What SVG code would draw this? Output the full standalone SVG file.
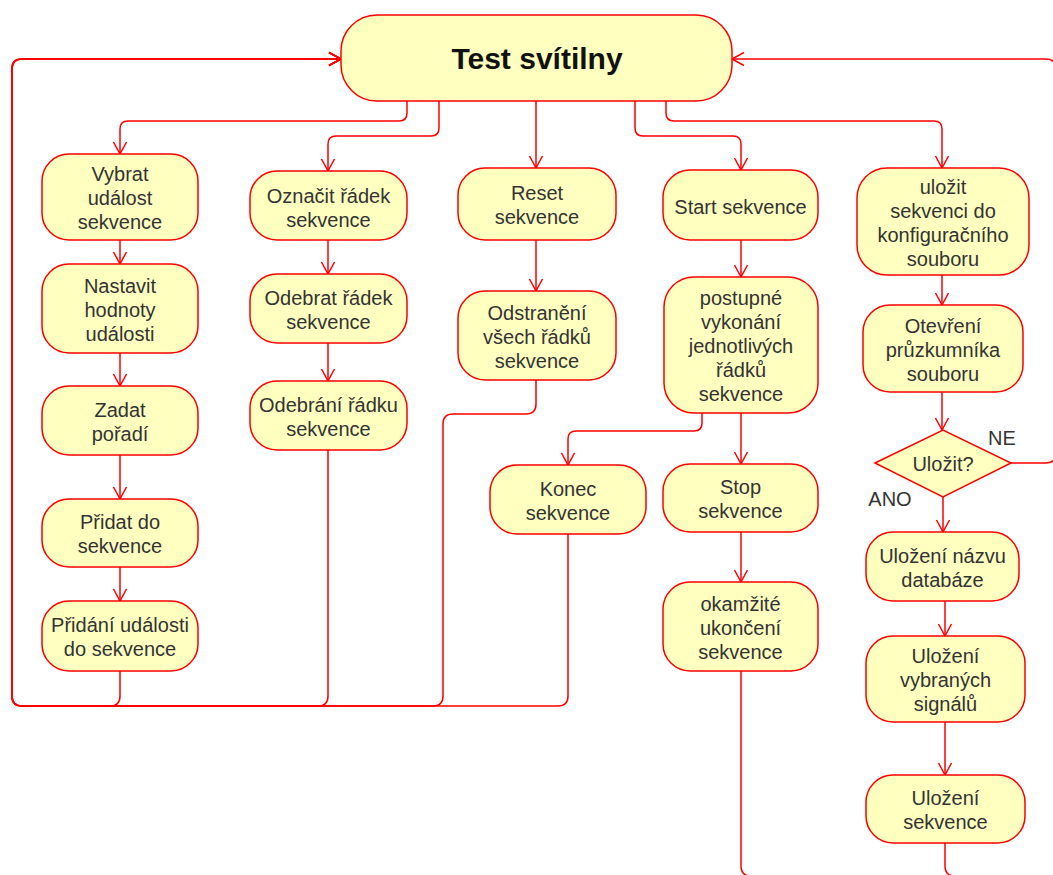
<svg xmlns="http://www.w3.org/2000/svg" width="1053" height="875" viewBox="0 0 1053 875">
  <style>
    .node rect, .node polygon { fill: #FFFFC0; stroke: #FF0000; stroke-width: 1.5; }
    .node text { font-family: "Liberation Sans", Arial, Helvetica, sans-serif; font-size: 20px; fill: #333333; text-anchor: middle; }
    .node text.title { font-size: 30px; font-weight: bold; fill: #111111; }
    .edges path { fill: none; stroke: #FF0000; stroke-width: 1.5; }
    .edges path.arr { marker-end: url(#open); }
    .lbl { font-family: "Liberation Sans", Arial, Helvetica, sans-serif; font-size: 20px; fill: #333333; text-anchor: middle; }
  </style>
  <defs>
    <marker id="open" viewBox="-14 -8 16 16" refX="0" refY="0" markerWidth="16" markerHeight="16" markerUnits="userSpaceOnUse" orient="auto">
      <path d="M-12,-6.5 L0,0 L-12,6.5" fill="none" stroke="#FF0000" stroke-width="1.5"/>
    </marker>
  </defs>
  <rect width="1053" height="875" fill="#FFFFFF"/>

  <!-- connectors -->
  <g class="edges" id="edges">
    <!-- from the start node -->
    <path class="arr" d="M407,101 V113 Q407,121 399,121 H128 Q120,121 120,129 V154"/>
    <path class="arr" d="M439,101 V128 Q439,136 431,136 H336 Q328,136 328,144 V171"/>
    <path class="arr" d="M536,101 V168"/>
    <path class="arr" d="M635,101 V128 Q635,136 643,136 H733 Q741,136 741,144 V170"/>
    <path class="arr" d="M666,101 V113 Q666,121 674,121 H934 Q942,121 942,129 V168"/>

    <!-- column 1 -->
    <path class="arr" d="M120,240 V264"/>
    <path class="arr" d="M120,353 V386"/>
    <path class="arr" d="M120,455 V499"/>
    <path class="arr" d="M120,567 V601"/>
    <path class="arr" d="M120,671 V696 Q120,706 110,706 H22 Q12,706 12,696 V69 Q12,59 22,59 H341"/>

    <!-- column 2 -->
    <path class="arr" d="M328,240 V274"/>
    <path class="arr" d="M328,343 V381"/>
    <path class="arr" d="M328,450 V696 Q328,706 318,706 H22 Q12,706 12,696 V69 Q12,59 22,59 H341"/>

    <!-- column 3 -->
    <path class="arr" d="M536,240 V291"/>
    <path class="arr" d="M536,380 V404 Q536,414 526,414 H453 Q443,414 443,424 V696 Q443,706 433,706 H22 Q12,706 12,696 V69 Q12,59 22,59 H341"/>

    <!-- column 4 -->
    <path class="arr" d="M741,240 V277"/>
    <path class="arr" d="M702,413 V423 Q702,431 694,431 H576 Q568,431 568,439 V465"/>
    <path class="arr" d="M741,413 V464"/>
    <path class="arr" d="M568,534 V696 Q568,706 558,706 H22 Q12,706 12,696 V69 Q12,59 22,59 H341"/>
    <path class="arr" d="M741,532 V582"/>
    <path d="M741,671 V866 Q741,876 751,876 H770"/>

    <!-- column 5 -->
    <path class="arr" d="M942,275 V305"/>
    <path class="arr" d="M942,392 V430"/>
    <path class="arr" d="M1011,463 H1046 Q1056,463 1056,453 V69 Q1056,59 1046,59 H732"/>
    <path class="arr" d="M943,497 V532"/>
    <path class="arr" d="M945,601 V636"/>
    <path class="arr" d="M945,722 V775"/>
    <path d="M945,843 V866 Q945,876 955,876 H980"/>
  </g>

  <!-- branch labels -->
  <text class="lbl" x="1002" y="445">NE</text>
  <text class="lbl" x="890" y="506">ANO</text>

  <!-- nodes -->
  <g class="node" id="test-svitilny">
    <rect x="341" y="15" width="391" height="86" rx="36"/>
    <text class="title" x="537" y="69">Test svítilny</text>
  </g>

  <g class="node" id="vybrat-udalost">
    <rect x="42" y="154" width="156" height="86" rx="27"/>
    <text x="120" y="181">Vybrat</text>
    <text x="120" y="205">událost</text>
    <text x="120" y="229">sekvence</text>
  </g>
  <g class="node" id="nastavit-hodnoty">
    <rect x="42" y="264" width="156" height="89" rx="27"/>
    <text x="120" y="293">Nastavit</text>
    <text x="120" y="317">hodnoty</text>
    <text x="120" y="341">události</text>
  </g>
  <g class="node" id="zadat-poradi">
    <rect x="42" y="386" width="156" height="69" rx="27"/>
    <text x="120" y="417">Zadat</text>
    <text x="120" y="441">pořadí</text>
  </g>
  <g class="node" id="pridat-do-sekvence">
    <rect x="42" y="499" width="156" height="68" rx="27"/>
    <text x="120" y="529">Přidat do</text>
    <text x="120" y="553">sekvence</text>
  </g>
  <g class="node" id="pridani-udalosti">
    <rect x="42" y="601" width="156" height="70" rx="27"/>
    <text x="120" y="632">Přidání události</text>
    <text x="120" y="656">do sekvence</text>
  </g>

  <g class="node" id="oznacit-radek">
    <rect x="250" y="171" width="157" height="69" rx="27"/>
    <text x="328.5" y="203">Označit řádek</text>
    <text x="328.5" y="227">sekvence</text>
  </g>
  <g class="node" id="odebrat-radek">
    <rect x="250" y="274" width="157" height="69" rx="27"/>
    <text x="328.5" y="305">Odebrat řádek</text>
    <text x="328.5" y="329">sekvence</text>
  </g>
  <g class="node" id="odebrani-radku">
    <rect x="250" y="381" width="157" height="69" rx="27"/>
    <text x="328.5" y="412">Odebrání řádku</text>
    <text x="328.5" y="436">sekvence</text>
  </g>

  <g class="node" id="reset-sekvence">
    <rect x="458" y="168" width="158" height="72" rx="27"/>
    <text x="537" y="200">Reset</text>
    <text x="537" y="224">sekvence</text>
  </g>
  <g class="node" id="odstraneni-radku">
    <rect x="458" y="291" width="158" height="89" rx="27"/>
    <text x="537" y="320">Odstranění</text>
    <text x="537" y="344">všech řádků</text>
    <text x="537" y="368">sekvence</text>
  </g>

  <g class="node" id="start-sekvence">
    <rect x="663" y="170" width="155" height="70" rx="27"/>
    <text x="740.5" y="214">Start sekvence</text>
  </g>
  <g class="node" id="postupne-vykonani">
    <rect x="664" y="277" width="154" height="136" rx="30"/>
    <text x="741" y="305">postupné</text>
    <text x="741" y="329">vykonání</text>
    <text x="741" y="353">jednotlivých</text>
    <text x="741" y="377">řádků</text>
    <text x="741" y="401">sekvence</text>
  </g>
  <g class="node" id="konec-sekvence">
    <rect x="490" y="465" width="156" height="69" rx="27"/>
    <text x="568" y="496">Konec</text>
    <text x="568" y="520">sekvence</text>
  </g>
  <g class="node" id="stop-sekvence">
    <rect x="663" y="464" width="155" height="68" rx="27"/>
    <text x="740.5" y="494">Stop</text>
    <text x="740.5" y="518">sekvence</text>
  </g>
  <g class="node" id="okamzite-ukonceni">
    <rect x="663" y="582" width="155" height="89" rx="27"/>
    <text x="740.5" y="611">okamžité</text>
    <text x="740.5" y="635">ukončení</text>
    <text x="740.5" y="659">sekvence</text>
  </g>

  <g class="node" id="ulozit-konfigurace">
    <rect x="857" y="168" width="172" height="107" rx="30"/>
    <text x="943" y="194">uložit</text>
    <text x="943" y="218">sekvenci do</text>
    <text x="943" y="242">konfiguračního</text>
    <text x="943" y="266">souboru</text>
  </g>
  <g class="node" id="otevreni-pruzkumnika">
    <rect x="863" y="305" width="160" height="87" rx="27"/>
    <text x="943" y="333">Otevření</text>
    <text x="943" y="357">průzkumníka</text>
    <text x="943" y="381">souboru</text>
  </g>
  <g class="node" id="ulozit-rozhodnuti">
    <polygon points="875,463 943,430 1011,463 943,497"/>
    <text x="943" y="471">Uložit?</text>
  </g>
  <g class="node" id="ulozeni-nazvu">
    <rect x="866" y="532" width="153" height="69" rx="27"/>
    <text x="942.5" y="563">Uložení názvu</text>
    <text x="942.5" y="587">databáze</text>
  </g>
  <g class="node" id="ulozeni-signalu">
    <rect x="866" y="636" width="159" height="86" rx="27"/>
    <text x="945.5" y="663">Uložení</text>
    <text x="945.5" y="687">vybraných</text>
    <text x="945.5" y="711">signálů</text>
  </g>
  <g class="node" id="ulozeni-sekvence">
    <rect x="866" y="775" width="159" height="68" rx="27"/>
    <text x="945.5" y="805">Uložení</text>
    <text x="945.5" y="829">sekvence</text>
  </g>
</svg>
